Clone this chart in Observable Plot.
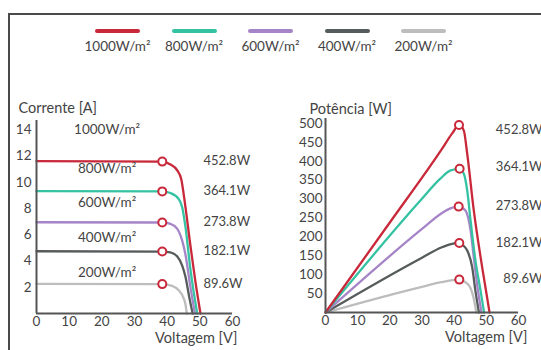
<!DOCTYPE html>
<html><head><meta charset="utf-8">
<script src="https://cdn.jsdelivr.net/npm/d3@7"></script>
<script src="https://cdn.jsdelivr.net/npm/@observablehq/plot@0.6"></script>
<style>
body{margin:0;background:#fff;font-family:Lato,"Open Sans",sans-serif;}
#wrap{position:relative;width:541px;height:350px;overflow:hidden;}
#frame{position:absolute;left:8px;top:13px;width:600px;height:400px;border-top:2px solid #4a4a4a;border-left:2px solid #4a4a4a;}
.leg{position:absolute;top:29px;width:84px;text-align:center;font-size:13.5px;color:#444;}
.leg .sw{width:45px;height:4px;border-radius:2px;margin:0 auto 5px auto;}
</style></head>
<body><div id="wrap"><div id="frame"></div></div>
<script>
const series = ["1000W/m²","800W/m²","600W/m²","400W/m²","200W/m²"];
const colors = ["#c8283a","#35c2a2","#a585c8","#565b5b","#bdbdbd"];
const powerLabels = ["452.8W","364.1W","273.8W","182.1W","89.6W"];

const ivVoltage = [
  [0, 38.5, 41, 43.1, 44.3, 45.6, 47.1, 48.6, 50.2],
  [0, 38.5, 41, 43.6, 44.6, 45.6, 47.1, 49.2],
  [0, 38.5, 41, 43.1, 44.6, 45.6, 47.0, 48.5],
  [0, 38.5, 41, 43.1, 44.6, 45.6, 46.8, 47.8],
  [0, 38.5, 41.5, 43.6, 44.9, 45.6, 46.0]
];
const ivCurrent = [
  [11.6, 11.57, 11.35, 10.9, 10.25, 8.1, 5.2, 2.5, 0],
  [9.32, 9.3, 9.18, 8.7, 8.1, 6.6, 3.4, 0],
  [6.95, 6.93, 6.83, 6.45, 5.55, 4.5, 2.2, 0],
  [4.74, 4.72, 4.65, 4.34, 3.65, 2.8, 1.2, 0],
  [2.25, 2.24, 2.1, 1.75, 1.24, 0.7, 0]
];
const pvVoltage = [
  [0, 20, 36, 39.5, 41.5, 43, 44.05, 46.1, 48.7, 51],
  [0, 29.5, 35.7, 38.9, 41.7, 43, 44.05, 45.1, 46.6, 48.2, 49.3],
  [0, 30, 36, 39, 41.4, 43.5, 45.1, 46.1, 47.1, 48.5],
  [0, 30, 36, 39, 41.6, 43, 44.05, 45.6, 46.6, 47.7],
  [0, 30, 36, 39, 41.6, 43.5, 45, 46, 46.6, 46.9]
];
const pvPower = [
  [0, 238, 430, 475, 496, 481, 420, 270, 120, 0],
  [0, 296, 354, 376, 380, 367, 323, 243, 138, 58, 0],
  [0, 221, 262, 276, 280, 270, 217, 146, 76, 0],
  [0, 145, 172, 181, 184, 176, 164, 120, 58, 0],
  [0, 68, 80, 85, 87, 80, 66, 40, 14, 0]
];
const mppIvV = [38.5, 38.5, 38.5, 38.5, 38.5];
const mppIvI = [11.57, 9.3, 6.93, 4.72, 2.24];
const mppPvV = [41.5, 41.7, 41.4, 41.6, 41.6];
const mppPvP = [496, 380, 280, 184, 87];
const irrLabelV = [21.6, 21.6, 21.6, 21.6, 21.6];
const irrLabelI = [14.0, 11.03, 8.45, 5.8, 3.1];
const powerLabelV = 51.1;
const powerLabelP = [484, 384, 283, 185, 90];
const xTicks = [0, 10, 20, 30, 40, 50, 60];
const iTicks = [2, 4, 6, 8, 10, 12, 14];
const pTicks = [50, 100, 150, 200, 250, 300, 350, 400, 450, 500];

const wrap = document.getElementById("wrap");

// legend
series.forEach((s, i) => {
  const d = document.createElement("div");
  d.className = "leg";
  d.style.left = (75.5 + i * 76.5) + "px";
  d.innerHTML = `<div class="sw" style="background:${colors[i]}"></div>${s}`;
  wrap.appendChild(d);
});

const order = [4, 3, 2, 1, 0];
const ivRows = order.flatMap(i => ivVoltage[i].map((v, j) => ({s: series[i], v, y: ivCurrent[i][j]})));
const pvRows = order.flatMap(i => pvVoltage[i].map((v, j) => ({s: series[i], v, y: pvPower[i][j]})));
const ivMpp = series.map((s, i) => ({s, v: mppIvV[i], y: mppIvI[i]}));
const pvMpp = series.map((s, i) => ({s, v: mppPvV[i], y: mppPvP[i]}));
const irrLab = series.map((s, i) => ({s, v: irrLabelV[i], y: irrLabelI[i]}));
const ivPow = series.map((s, i) => ({t: powerLabels[i], v: powerLabelV, y: ivCurrent[i][0]}));
const pvPow = series.map((s, i) => ({t: powerLabels[i], y: powerLabelP[i]}));

const style = {fontFamily: "Lato, 'Open Sans', sans-serif", fontSize: "13.5px", color: "#444", background: "transparent", overflow: "visible"};
const colorScale = {domain: series, range: colors};
const txt = "#444";

const left = Plot.plot({
  width: 270, height: 260, marginLeft: 36, marginRight: 38, marginTop: 30, marginBottom: 37,
  style, color: colorScale,
  x: {domain: [0, 60]}, y: {domain: [0, 14.7]},
  marks: [
    Plot.axisX({ticks: xTicks, tickSize: 0, tickPadding: 3, label: null, fill: txt}),
    Plot.axisY({ticks: iTicks, tickSize: 0, tickPadding: 5, label: null, fill: txt}),
    Plot.line(ivRows, {x: "v", y: "y", z: "s", stroke: "s", strokeWidth: 2.3, curve: "monotone-x"}),
    Plot.ruleX([0], {stroke: "#555", strokeWidth: 2}),
    Plot.ruleY([0], {stroke: "#555", strokeWidth: 2}),
    Plot.dot(ivMpp, {x: "v", y: "y", r: 4, stroke: "#c8283a", strokeWidth: 2, fill: "white"}),
    Plot.text(irrLab, {x: "v", y: "y", text: "s", fill: txt, fontSize: 13.5}),
    Plot.text(ivPow, {x: "v", y: "y", text: "t", textAnchor: "start", fill: txt, fontSize: 13}),
    Plot.text(["Corrente [A]"], {frameAnchor: "top-left", dx: -18, dy: -18, textAnchor: "start", fill: txt, fontSize: 14.5}),
    Plot.text(["Voltagem [V]"], {frameAnchor: "bottom-right", dx: 5, dy: 29, textAnchor: "end", fill: txt, fontSize: 14.5})
  ]
});
left.style.position = "absolute";
left.style.left = "0px";
left.style.top = "90px";
wrap.appendChild(left);

const right = Plot.plot({
  width: 271, height: 260, marginLeft: 55, marginRight: 23, marginTop: 28, marginBottom: 38,
  style, color: colorScale,
  x: {domain: [0, 60]}, y: {domain: [0, 513]},
  marks: [
    Plot.axisX({ticks: xTicks, tickSize: 0, tickPadding: 3, label: null, fill: txt}),
    Plot.axisY({ticks: pTicks, tickSize: 0, tickPadding: 3, label: null, fill: txt}),
    Plot.line(pvRows, {x: "v", y: "y", z: "s", stroke: "s", strokeWidth: 2.3, curve: "monotone-x"}),
    Plot.ruleX([0], {stroke: "#555", strokeWidth: 2}),
    Plot.ruleY([0], {stroke: "#555", strokeWidth: 2}),
    Plot.dot(pvMpp, {x: "v", y: "y", r: 4, stroke: "#c8283a", strokeWidth: 2, fill: "white"}),
    Plot.text(pvPow, {y: "y", text: "t", frameAnchor: "right", dx: 24, textAnchor: "end", fill: txt, fontSize: 13}),
    Plot.text(["Potência [W]"], {frameAnchor: "top-left", dx: -16, dy: -15, textAnchor: "start", fill: txt, fontSize: 14.5}),
    Plot.text(["Voltagem [V]"], {frameAnchor: "bottom-right", dx: 9, dy: 29, textAnchor: "end", fill: txt, fontSize: 14.5})
  ]
});
right.style.position = "absolute";
right.style.left = "270px";
right.style.top = "90px";
wrap.appendChild(right);
</script>
</body></html>
